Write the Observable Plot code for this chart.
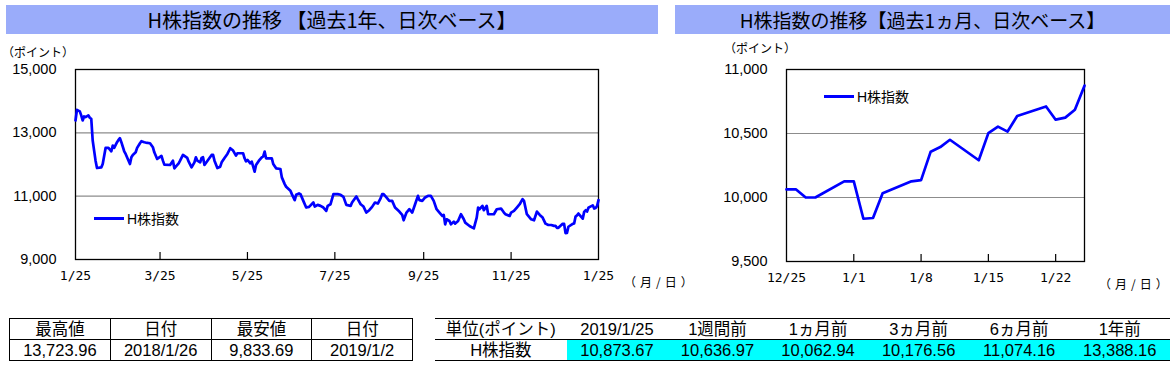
<!DOCTYPE html>
<html><head><meta charset="utf-8">
<script src="https://cdn.jsdelivr.net/npm/d3@7"></script>
<script src="https://cdn.jsdelivr.net/npm/@observablehq/plot@0.6"></script>
<style>
body{margin:0;background:#fff;}
#root{position:relative;width:1176px;height:366px;overflow:hidden;background:#fff;font-family:"Liberation Sans","Noto Sans CJK JP",sans-serif;color:#000;}
.title{position:absolute;top:5px;height:29px;background:#9AACFA;font-family:"Noto Sans CJK JP",sans-serif;font-size:19px;line-height:29px;text-align:center;color:#000;white-space:nowrap;}
.small{position:absolute;font-family:"Noto Sans CJK JP",sans-serif;font-size:12px;white-space:nowrap;}
.leg{position:absolute;display:flex;align-items:center;font-size:14px;font-family:"Liberation Sans","Noto Sans CJK JP",sans-serif;white-space:nowrap;}
.leg span.sw{display:inline-block;width:30px;height:3px;background:#0000FF;margin-right:3px;}
table{border-collapse:collapse;position:absolute;table-layout:fixed;font-size:16.5px;font-family:"Liberation Sans","Noto Sans CJK JP",sans-serif;}
td{padding:0;height:20px;line-height:20px;text-align:center;white-space:nowrap;}
#t1 td{border:1px solid #000;}
#t2 tr:first-child td{border-top:1px solid #000;}
#t2 tr:last-child td{border-top:1px solid #000;border-bottom:1px solid #000;}
#t2 td.v{background:#00FFFF;}
svg{position:absolute;top:0;}
</style>
</head><body><div id="root"></div>
<script>
// ---- Data ----
const yearDates = ["2018-01-25","2018-01-26","2018-01-28","2018-01-29","2018-01-30","2018-01-31","2018-02-01","2018-02-03","2018-02-04","2018-02-05","2018-02-06","2018-02-07","2018-02-08","2018-02-09","2018-02-12","2018-02-13","2018-02-15","2018-02-17","2018-02-19","2018-02-20","2018-02-21","2018-02-23","2018-02-24","2018-02-25","2018-02-26","2018-02-28","2018-03-01","2018-03-04","2018-03-05","2018-03-06","2018-03-08","2018-03-09","2018-03-11","2018-03-12","2018-03-14","2018-03-15","2018-03-18","2018-03-20","2018-03-21","2018-03-23","2018-03-24","2018-03-26","2018-03-27","2018-03-28","2018-04-01","2018-04-03","2018-04-04","2018-04-05","2018-04-07","2018-04-08","2018-04-10","2018-04-11","2018-04-13","2018-04-14","2018-04-16","2018-04-18","2018-04-19","2018-04-20","2018-04-22","2018-04-23","2018-04-24","2018-04-25","2018-04-26","2018-04-28","2018-04-30","2018-05-01","2018-05-02","2018-05-04","2018-05-06","2018-05-07","2018-05-09","2018-05-11","2018-05-13","2018-05-15","2018-05-17","2018-05-18","2018-05-22","2018-05-23","2018-05-24","2018-05-25","2018-05-27","2018-05-28","2018-05-30","2018-05-31","2018-06-02","2018-06-04","2018-06-05","2018-06-06","2018-06-07","2018-06-11","2018-06-12","2018-06-14","2018-06-17","2018-06-18","2018-06-20","2018-06-21","2018-06-24","2018-06-25","2018-06-27","2018-06-28","2018-06-30","2018-07-01","2018-07-03","2018-07-05","2018-07-07","2018-07-10","2018-07-11","2018-07-13","2018-07-15","2018-07-17","2018-07-19","2018-07-20","2018-07-22","2018-07-24","2018-07-27","2018-07-29","2018-07-31","2018-08-02","2018-08-05","2018-08-06","2018-08-09","2018-08-10","2018-08-12","2018-08-14","2018-08-16","2018-08-18","2018-08-20","2018-08-22","2018-08-24","2018-08-26","2018-08-27","2018-08-28","2018-08-30","2018-09-01","2018-09-03","2018-09-05","2018-09-08","2018-09-10","2018-09-11","2018-09-13","2018-09-15","2018-09-17","2018-09-19","2018-09-21","2018-09-22","2018-09-24","2018-09-26","2018-09-28","2018-09-30","2018-10-02","2018-10-04","2018-10-06","2018-10-08","2018-10-09","2018-10-10","2018-10-11","2018-10-13","2018-10-14","2018-10-16","2018-10-17","2018-10-19","2018-10-21","2018-10-23","2018-10-24","2018-10-27","2018-10-29","2018-10-30","2018-11-01","2018-11-02","2018-11-03","2018-11-05","2018-11-06","2018-11-08","2018-11-09","2018-11-11","2018-11-13","2018-11-15","2018-11-18","2018-11-20","2018-11-21","2018-11-24","2018-11-25","2018-11-27","2018-11-29","2018-12-01","2018-12-03","2018-12-04","2018-12-06","2018-12-08","2018-12-09","2018-12-11","2018-12-13","2018-12-15","2018-12-17","2018-12-19","2018-12-21","2018-12-23"];
const yearValues = [13391,13724,13677,13550,13391,13518,13497,13550,13476,13444,12757,12440,12122,11889,11910,12016,12524,12524,12418,12598,12524,12704,12778,12831,12704,12418,12333,12016,12228,12302,12386,12524,12672,12735,12704,12693,12672,12545,12386,12175,12206,12270,12122,11995,11984,12122,11878,11931,12037,12122,12302,12270,12206,12090,11910,12069,12228,12122,12069,12206,12228,11984,12048,12175,12302,12302,12122,11889,11931,12069,12206,12333,12513,12440,12280,12355,12355,12196,12101,12143,12037,12090,11773,11984,12122,12228,12259,12408,12196,12196,12016,11878,11857,11593,11381,11297,11170,11064,10873,11043,11085,11064,10852,10641,10662,10799,10672,10725,10694,10641,10535,10694,10746,11064,11064,11043,10979,10725,10694,10799,10990,10905,10746,10672,10482,10556,10662,10799,10767,10937,11064,11064,10958,10852,10852,10641,10514,10408,10239,10482,10588,10482,10746,11011,10873,10852,10958,11011,11011,10852,10588,10482,10376,10408,10111,10270,10217,10111,10196,10133,10217,10429,10270,10164,10058,10006,9985,10323,10641,10588,10694,10556,10694,10429,10429,10429,10588,10609,10482,10429,10376,10482,10535,10641,10746,10905,10852,10429,10323,10270,10239,10514,10408,10323,10133,10090,10090];
const monthDates = ["2018-12-25","2018-12-26","2018-12-27","2018-12-28","2018-12-31","2019-01-01","2019-01-02","2019-01-03","2019-01-04","2019-01-07","2019-01-08","2019-01-09","2019-01-10","2019-01-11","2019-01-14","2019-01-15","2019-01-16","2019-01-17","2019-01-18","2019-01-21","2019-01-22","2019-01-23","2019-01-24","2019-01-25"];
const monthValues = [10063,10063,10000,10000,10126,10126,9834,9840,10034,10126,10136,10358,10394,10451,10291,10503,10554,10515,10637,10711,10608,10624,10686,10874];

const seriesName = "H株指数";
const yearTitle = "H株指数の推移 【過去1年、日次ベース】";
const monthTitle = "H株指数の推移【過去1ヵ月、日次ベース】";
const yUnit = "（ポイント）";
const xUnit = "（月/日）";
const yearXTicks = ["2018-01-25","2018-03-25","2018-05-25","2018-07-25","2018-09-25","2018-11-25","2019-01-25"];
const yearYTicks = [9000,11000,13000,15000];
const monthXTicks = ["2018-12-25","2019-01-01","2019-01-08","2019-01-15","2019-01-22"];
const monthXEnd = "2019-01-25";
const monthYTicks = [9500,10000,10500,11000];

const statHeaders = ["最高値","日付","最安値","日付"];
const statValues = ["13,723.96","2018/1/26","9,833.69","2019/1/2"];
const compHeaders = ["単位(ポイント)","2019/1/25","1週間前","1ヵ月前","3ヵ月前","6ヵ月前","1年前"];
const compValues = [10873.67,10636.97,10062.94,10176.56,11074.16,13388.16];

// ---- Build ----
const P = s => new Date(s + "T00:00:00Z");
const monthData = monthDates.map((d,i)=>({date:P(d), value:monthValues[i]}));
const yearData = yearDates.map((d,i)=>({date:P(d), value:yearValues[i]})).concat(monthData);
const md = d => `${d.getUTCMonth()+1}/${d.getUTCDate()}`;
const root = document.getElementById("root");

function chart({data, xTicks, xEnd, yTicks, width, ml, mr, mt, mb, padY}) {
  const H = 300;
  const xt = xTicks.map(P);
  const inner = xt.filter(d => d > xt[0] && d < P(xEnd));
  const grid = yTicks.slice(1, -1);
  return Plot.plot({
    width, height: H, marginLeft: ml, marginRight: mr, marginTop: mt, marginBottom: mb,
    style: {background: "transparent", color: "#000", overflow: "visible"},
    x: {type: "utc", domain: [xt[0], P(xEnd)], label: null},
    y: {domain: [yTicks[0], yTicks[yTicks.length-1]], label: null},
    marks: [
      Plot.ruleY(grid, {stroke: "#8c8c8c", strokeWidth: 1.2}),
      Plot.tickX(inner, {x: d => d, insetTop: H - mt - mb - 7, stroke: "#000", strokeWidth: 1.2}),
      Plot.frame({stroke: "#000", strokeWidth: 1.3}),
      Plot.axisY({ticks: yTicks, tickSize: 0, tickPadding: padY, tickFormat: d3.format(","), fontSize: 14.5, fontFamily: "Liberation Sans"}),
      Plot.axisX({ticks: xt, tickSize: 0, tickPadding: 11, tickFormat: md, fontSize: 13, fontFamily: "DejaVu Sans Mono"}),
      Plot.lineY(data, {x: "date", y: "value", stroke: "#0000FF", strokeWidth: 2.7, curve: "linear"})
    ]
  });
}

const left = chart({data: yearData, xTicks: yearXTicks, xEnd: yearXTicks[yearXTicks.length-1], yTicks: yearYTicks, width: 660, ml: 75, mr: 62, mt: 69, mb: 41, padY: 19});
left.style.left = "0px";
root.appendChild(left);
const right = chart({data: monthData, xTicks: monthXTicks, xEnd: monthXEnd, yTicks: monthYTicks, width: 516, ml: 126, mr: 92, mt: 69, mb: 39, padY: 19});
right.style.left = "660px";
root.appendChild(right);

function add(html, cls, css) {
  const el = document.createElement("div");
  el.className = cls; el.innerHTML = html; Object.assign(el.style, css); root.appendChild(el); return el;
}
add(yearTitle, "title", {left: "6px", width: "652px", fontSize: "20px"});
add(monthTitle, "title", {left: "675px", width: "495px"});
add(yUnit, "small", {left: "2px", top: "43px"});
add(yUnit, "small", {left: "724px", top: "39px"});
add(xUnit, "small", {left: "624px", top: "273px", letterSpacing: "4px"});
add(xUnit, "small", {left: "1099px", top: "275px", letterSpacing: "4px"});
add(`<span class="sw"></span>${seriesName}`, "leg", {left: "94px", top: "208px"});
add(`<span class="sw"></span>${seriesName}`, "leg", {left: "824px", top: "86px"});

// tables
const t1 = document.createElement("table"); t1.id = "t1";
Object.assign(t1.style, {left: "9px", top: "318px", width: "404px"});
t1.innerHTML = `<tr>${statHeaders.map(h=>`<td>${h}</td>`).join("")}</tr><tr>${statValues.map(v=>`<td>${v}</td>`).join("")}</tr>`;
root.appendChild(t1);

const fmt2 = d3.format(",.2f");
const t2 = document.createElement("table"); t2.id = "t2";
Object.assign(t2.style, {left: "435px", top: "318px", width: "735px"});
t2.innerHTML = `<colgroup><col style="width:131px">${compValues.map(()=>'<col style="width:100px">').join("")}</colgroup>` +
  `<tr>${compHeaders.map(h=>`<td>${h}</td>`).join("")}</tr>` +
  `<tr><td>${seriesName}</td>${compValues.map(v=>`<td class="v">${fmt2(v)}</td>`).join("")}</tr>`;
root.appendChild(t2);
</script>
</body></html>
